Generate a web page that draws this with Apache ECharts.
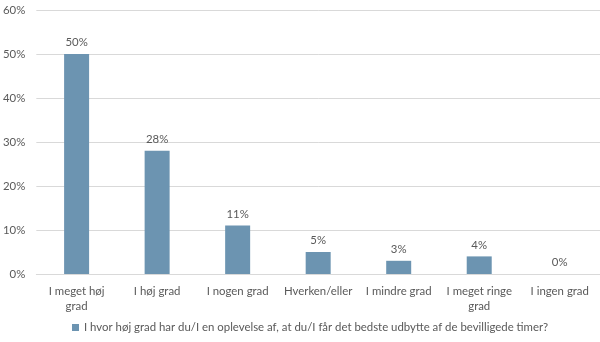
<!DOCTYPE html>
<html>
<head>
<meta charset="utf-8">
<script src="https://cdn.jsdelivr.net/npm/echarts@6/dist/echarts.min.js"></script>
<style>
  html, body { margin: 0; padding: 0; background: #fff; }
  #chart { width: 600px; height: 342px; }
</style>
</head>
<body>
<div id="chart"></div>
<script>
// Answer categories and their shares (percent)
const categories = ['I meget høj\ngrad', 'I høj grad', 'I nogen grad', 'Hverken/eller', 'I mindre grad', 'I meget ringe\ngrad', 'I ingen grad'];
const values = [50, 28, 11, 5, 3, 4, 0];
const seriesName = 'I hvor høj grad har du/I en oplevelse af, at du/I får det bedste udbytte af de bevilligede timer?';

const font = 'Lato, "Open Sans", sans-serif';
const textColor = '#595959';
const fs = 11.4;

const chart = echarts.init(document.getElementById('chart'), null, { renderer: 'canvas' });
chart.setOption({
  animation: false,
  textStyle: { fontFamily: font },
  grid: { left: 34, right: 0, top: 10, bottom: 68 },
  legend: {
    bottom: 4,
    left: 67,
    itemWidth: 7,
    itemHeight: 7,
    itemGap: 5,
    icon: 'rect',
    textStyle: { color: textColor, fontSize: fs, fontFamily: font },
    data: [seriesName]
  },
  xAxis: {
    type: 'category',
    data: categories,
    axisLine: { lineStyle: { color: '#d9d9d9' } },
    axisTick: { show: false },
    axisLabel: { color: textColor, fontSize: fs, fontFamily: font, margin: 10, lineHeight: 15, interval: 0 }
  },
  yAxis: {
    type: 'value',
    min: 0,
    max: 60,
    interval: 10,
    axisLine: { show: false },
    axisTick: { show: false },
    axisLabel: { color: textColor, fontSize: fs, fontFamily: font, formatter: '{value}%', margin: 11 },
    splitLine: { lineStyle: { color: '#d9d9d9' } }
  },
  series: [{
    name: seriesName,
    type: 'bar',
    data: values,
    barWidth: 25,
    itemStyle: { color: '#6c94b1' },
    label: {
      show: true,
      position: 'top',
      distance: 6,
      color: textColor,
      fontSize: fs,
      fontFamily: font,
      formatter: '{c}%'
    }
  }]
});
</script>
</body>
</html>
